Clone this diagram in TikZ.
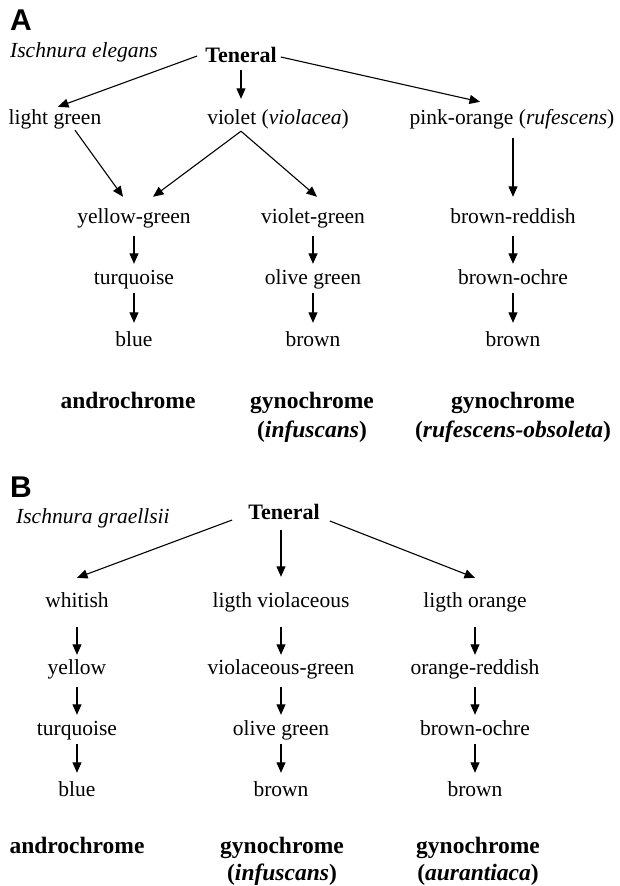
\documentclass[tikz,border=0pt]{standalone}
\usepackage{fontspec}
\setmainfont{Liberation Serif}
\newfontfamily\panelfont{Liberation Sans}
\usetikzlibrary{arrows.meta,calc}

\begin{document}
\begin{tikzpicture}[x=1pt,y=-1pt,
  every node/.style={inner sep=0pt, anchor=base},
  txt/.style={font=\fontsize{21.5}{25}\selectfont, text height=15pt, text depth=5pt},
  hub/.style={txt, font=\fontsize{22}{25}\selectfont\bfseries},
  lab/.style={font=\fontsize{23.5}{27}\selectfont\bfseries},
  panel/.style={font=\fontsize{30}{34}\selectfont\panelfont\bfseries, anchor=base west},
  species/.style={font=\fontsize{21.5}{25}\selectfont\itshape, anchor=base west},
  arr/.style={draw=black, line width=1.1pt, -{Triangle[length=10.5pt,width=9pt]}}
]
\useasboundingbox (0,0) rectangle (619,886);

% ---------------- panel A: Ischnura elegans ----------------
\node[panel]   (pA)   at (10,30)  {A};
\node[species] (spA)  at (10,57)  {Ischnura elegans};
\node[hub]     (ten)  at (241,62) {Teneral};

\node[txt] (lg)  at (55,124)  {light green};
\node[txt] (vio) at (278,124) {violet (\textit{violacea})};
\node[txt] (po)  at (512,124) {pink-orange (\textit{rufescens})};

\node[txt] (yg)  at (134,223) {yellow-green};
\node[txt] (vg)  at (313,223) {violet-green};
\node[txt] (brr) at (513,223) {brown-reddish};

\node[txt] (tq)  at (134,284) {turquoise};
\node[txt] (og)  at (313,284) {olive green};
\node[txt] (bo)  at (513,284) {brown-ochre};

\node[txt] (bl)  at (134,346) {blue};
\node[txt] (bn)  at (313,346) {brown};
\node[txt] (bnr) at (513,346) {brown};

\node[lab] (andA)  at (128,408) {androchrome};
\node[lab] (gyA)   at (312,408) {gynochrome};
\node[lab] (gyAs)  at (312,437) {(\textit{infuscans})};
\node[lab] (gyR)   at (513,408) {gynochrome};
\node[lab] (gyRs)  at (513,437) {(\textit{rufescens-obsoleta})};

\draw[arr] ($(ten.west)+(-8,-1)$) -- ($(lg.north)+(3,-2)$);
\draw[arr] ($(ten.south)+(0,3)$) -- ($(ten.south |- vio.north)+(0,-10)$);
\draw[arr] ($(ten.east)+(4,0)$) -- ($(po.north)+(-32,-7)$);

\draw[arr] ($(lg.south)+(20,1)$) -- ($(yg.north)+(-11,-11)$);
\draw[arr] ($(ten.south |- vio.south)+(0,2)$) -- ($(yg.north)+(19,-11)$);
\draw[arr] ($(ten.south |- vio.south)+(0,2)$) -- ($(vg.north)+(4,-11)$);
\draw[arr] ($(po.south)+(1,9)$) -- ($(brr.north)+(0,-11)$);

\foreach \a/\b in {yg/tq, vg/og, brr/bo}
  \draw[arr] ($(\a.south)+(0,8)$) -- ($(\b.north)+(0,-5)$);
\foreach \a/\b in {tq/bl, og/bn, bo/bnr}
  \draw[arr] ($(\a.south)+(0,4)$) -- ($(\b.north)+(0,-8)$);

% ---------------- panel B: Ischnura graellsii ----------------
\node[panel]   (pB)   at (10,497)  {B};
\node[species] (spB)  at (16,523)  {Ischnura graellsii};
\node[hub]     (tenB) at (284,519) {Teneral};

\node[txt] (wh)  at (77,607)  {whitish};
\node[txt] (lv)  at (281,607) {ligth violaceous};
\node[txt] (lo)  at (475,607) {ligth orange};

\node[txt] (ye)  at (77,674)  {yellow};
\node[txt] (vgB) at (281,674) {violaceous-green};
\node[txt] (orr) at (475,674) {orange-reddish};

\node[txt] (tqB) at (77,735)  {turquoise};
\node[txt] (ogB) at (281,735) {olive green};
\node[txt] (boB) at (475,735) {brown-ochre};

\node[txt] (blB) at (77,796)  {blue};
\node[txt] (bnB) at (281,796) {brown};
\node[txt] (bnO) at (475,796) {brown};

\node[lab] (andB) at (77,853)  {androchrome};
\node[lab] (gyB)  at (282,853) {gynochrome};
\node[lab] (gyBs) at (282,880) {(\textit{infuscans})};
\node[lab] (gyO)  at (478,853) {gynochrome};
\node[lab] (gyOs) at (478,880) {(\textit{aurantiaca})};

\draw[arr] ($(tenB.west)+(-16,6)$) -- ($(wh.north)+(0,-14)$);
\draw[arr] ($(lv.north |- tenB.south)+(0,6)$) -- ($(lv.north)+(0,-15)$);
\draw[arr] ($(tenB.east)+(10,7)$) -- ($(lo.north)+(0,-14)$);

\foreach \a/\b in {wh/ye, lv/vgB, lo/orr}
  \draw[arr] ($(\a.south)+(0,15)$) -- ($(\b.north)+(0,-4)$);
\foreach \a/\b in {ye/tqB, vgB/ogB, orr/boB}
  \draw[arr] ($(\a.south)+(0,8)$) -- ($(\b.north)+(0,-5)$);
\foreach \a/\b in {tqB/blB, ogB/bnB, boB/bnO}
  \draw[arr] ($(\a.south)+(0,4)$) -- ($(\b.north)+(0,-8)$);
\end{tikzpicture}
\end{document}
